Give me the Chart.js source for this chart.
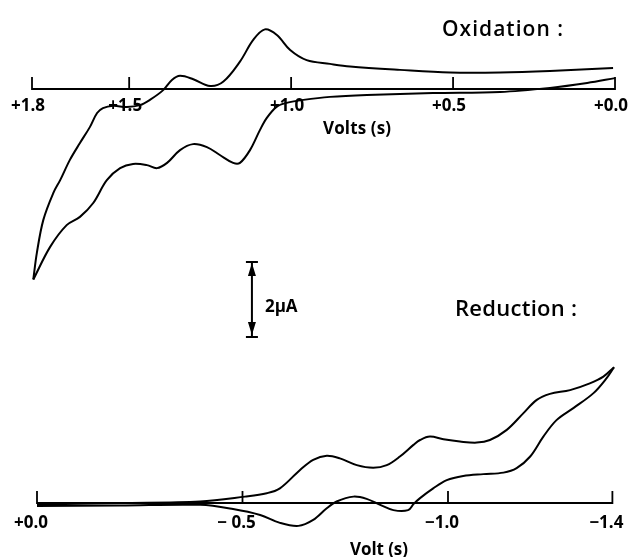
<!DOCTYPE html>
<html><head><meta charset="utf-8">
<script src="https://cdn.jsdelivr.net/npm/chart.js@4"></script>
<style>
html,body{margin:0;padding:0;background:#fff;width:628px;height:557px;overflow:hidden}
#wrap{position:relative;width:628px;height:557px}
canvas{position:absolute;left:0;top:0}
</style></head><body>
<div id="wrap">
<canvas id="ox" width="628" height="557"></canvas>
<canvas id="red" width="628" height="557"></canvas>
</div>
<script>
// ---------- Oxidation panel (volts vs microamps) ----------
const oxTickValues = [1.8, 1.5, 1.0, 0.5, 0.0];
const oxTickLabels = ['+1.8', '+1.5', '+1.0', '+0.5', '+0.0'];
const oxForwardVolts   = [1.796, 1.785, 1.765, 1.734, 1.713, 1.683, 1.652, 1.621, 1.599, 1.581, 1.550, 1.507, 1.467, 1.436, 1.395, 1.368, 1.343, 1.302, 1.250, 1.209, 1.158, 1.117, 1.081, 1.044, 1.003, 0.952, 0.880, 0.818, 0.664, 0.509, 0.355, 0.201, 0.006];
const oxForwardCurrent = [-5.08, -4.37, -3.49, -2.77, -2.43, -1.89, -1.44, -1.01, -0.64, -0.51, -0.45, -0.48, -0.43, -0.29, -0.03, 0.24, 0.35, 0.26, 0.08, 0.20, 0.73, 1.31, 1.59, 1.44, 1.04, 0.77, 0.67, 0.60, 0.51, 0.44, 0.44, 0.48, 0.56];
const oxReverseVolts   = [1.796, 1.744, 1.693, 1.652, 1.611, 1.569, 1.528, 1.488, 1.445, 1.414, 1.383, 1.343, 1.303, 1.260, 1.220, 1.179, 1.158, 1.127, 1.096, 1.075, 1.044, 1.014, 0.962, 0.880, 0.766, 0.562, 0.355, 0.201, 0.086, 0.0];
const oxReverseCurrent = [-5.08, -4.21, -3.63, -3.41, -3.04, -2.43, -2.11, -2.00, -2.03, -2.11, -1.97, -1.63, -1.47, -1.55, -1.76, -1.97, -1.97, -1.63, -1.09, -0.77, -0.47, -0.37, -0.29, -0.21, -0.16, -0.11, -0.08, 0.03, 0.16, 0.29];

// ---------- Reduction panel ----------
const redTickValues = [0.0, -0.5, -1.0, -1.4];
const redTickLabels = ['+0.0', '\u2212 0.5', '\u22121.0', '\u22121.4'];
const redForwardVolts   = [0.0, -0.202, -0.397, -0.506, -0.559, -0.591, -0.640, -0.672, -0.705, -0.737, -0.778, -0.818, -0.851, -0.883, -0.916, -0.932, -0.956, -0.989, -1.029, -1.070, -1.102, -1.143, -1.183, -1.216, -1.248, -1.297, -1.345, -1.378, -1.404];
const redForwardCurrent = [-0.04, 0.0, 0.04, 0.17, 0.26, 0.39, 0.88, 1.15, 1.26, 1.19, 1.01, 0.94, 1.01, 1.24, 1.55, 1.68, 1.77, 1.70, 1.64, 1.61, 1.68, 1.95, 2.39, 2.75, 2.91, 3.01, 3.19, 3.37, 3.62];
const redReverseVolts   = [0.0, -0.202, -0.397, -0.477, -0.543, -0.591, -0.636, -0.672, -0.705, -0.729, -0.770, -0.802, -0.835, -0.867, -0.903, -0.916, -0.932, -0.964, -0.997, -1.037, -1.086, -1.135, -1.167, -1.200, -1.232, -1.264, -1.305, -1.354, -1.386, -1.404];
const redReverseCurrent = [-0.08, -0.07, -0.05, -0.16, -0.32, -0.53, -0.61, -0.45, -0.14, 0.04, 0.17, 0.11, -0.05, -0.19, -0.19, -0.03, 0.13, 0.39, 0.61, 0.72, 0.77, 0.81, 0.93, 1.24, 1.77, 2.21, 2.53, 2.93, 3.33, 3.62];

// ---------- Current scale bar ----------
const scaleBarMicroAmps = 2;
const scaleBarLabel = '2\u03BCA';

const FONT = '"Open Sans", "Liberation Sans", Arial, sans-serif';

function pts(xs, ys) { return xs.map((v, i) => ({ x: v, y: ys[i] })); }

function drawText(ctx, text, left, cy, size, width, weight) {
  ctx.font = (weight || 700) + ' ' + size + 'px ' + FONT;
  ctx.textAlign = 'left';
  ctx.textBaseline = 'alphabetic';
  if ('letterSpacing' in ctx) ctx.letterSpacing = '0px';
  const w = ctx.measureText(text).width;
  const n = [...text].length;
  if (width && 'letterSpacing' in ctx && n > 1) ctx.letterSpacing = ((width - w) / (n - 1)) + 'px';
  ctx.fillText(text, left, cy + size * 0.36);
  if ('letterSpacing' in ctx) ctx.letterSpacing = '0px';
}

function axisPlugin(cfg) {
  return {
    id: 'axis_' + cfg.name,
    afterDatasetsDraw(chart) {
      const ctx = chart.ctx, x = chart.scales.x, y = chart.scales.y;
      const y0 = y.getPixelForValue(0);
      const xs = cfg.ticks.map(v => x.getPixelForValue(v));
      ctx.save();
      ctx.strokeStyle = '#000';
      ctx.fillStyle = '#000';
      ctx.lineWidth = 2;
      ctx.beginPath();
      ctx.moveTo(Math.min(...xs), y0);
      ctx.lineTo(Math.max(...xs), y0);
      ctx.stroke();
      ctx.lineWidth = 1.8;
      ctx.beginPath();
      xs.forEach(px => { ctx.moveTo(px, y0 + 1); ctx.lineTo(px, y0 - 12); });
      ctx.stroke();
      ctx.font = '700 17px ' + FONT;
      ctx.textAlign = 'center';
      ctx.textBaseline = 'alphabetic';
      xs.forEach((px, i) => {
        ctx.fillText(cfg.labels[i], px + cfg.labelDx, y0 + cfg.labelDy + 17 * 0.36);
      });
      cfg.texts.forEach(t => drawText(ctx, t.text, t.left, t.cy, t.size, t.width, t.weight));
      if (cfg.bar) {
        const bx = x.getPixelForValue(cfg.bar.v);
        const t = y.getPixelForValue(cfg.bar.top);
        const b = y.getPixelForValue(cfg.bar.top - scaleBarMicroAmps);
        ctx.lineWidth = 2;
        ctx.beginPath();
        ctx.moveTo(bx - 6, t); ctx.lineTo(bx + 6, t);
        ctx.moveTo(bx - 6, b); ctx.lineTo(bx + 6, b);
        ctx.moveTo(bx, t); ctx.lineTo(bx, b);
        ctx.stroke();
        ctx.beginPath();
        ctx.moveTo(bx, t + 1); ctx.lineTo(bx - 4, t + 14); ctx.lineTo(bx + 4, t + 14); ctx.closePath();
        ctx.moveTo(bx, b - 2); ctx.lineTo(bx - 4, b - 15); ctx.lineTo(bx + 4, b - 15); ctx.closePath();
        ctx.fill();
        drawText(ctx, scaleBarLabel, bx + 13, (t + b) / 2 + 6, 17, 0, 700);
      }
      ctx.restore();
    }
  };
}

function lineSet(data) {
  return { data, showLine: true, fill: false, borderColor: '#000', borderWidth: 2, pointRadius: 0, clip: false, tension: 0.35 };
}

function makeChart(id, datasets, xMin, xMax, yMin, yMax, plugin) {
  return new Chart(document.getElementById(id), {
    type: 'scatter',
    data: { datasets },
    options: {
      responsive: false, animation: false, devicePixelRatio: 1,
      layout: { padding: 0 },
      plugins: { legend: { display: false }, tooltip: { enabled: false } },
      scales: {
        x: { type: 'linear', display: false, reverse: true, min: xMin, max: xMax },
        y: { type: 'linear', display: false, min: yMin, max: yMax }
      }
    },
    plugins: [plugin]
  });
}

// top panel: 1.8 V at x=32px, 0 V at x=615px; 0 uA at y=89px, 37.5 px per uA
makeChart('ox',
  [lineSet(pts(oxForwardVolts, oxForwardCurrent)), lineSet(pts(oxReverseVolts, oxReverseCurrent))],
  -0.0401, 1.8988, -12.48, 2.3733,
  axisPlugin({
    name: 'ox', ticks: oxTickValues, labels: oxTickLabels, labelDx: -4, labelDy: 16,
    texts: [
      { text: 'Oxidation :', left: 442, cy: 28, size: 21, width: 121, weight: 600 },
      { text: 'Volts (s)', left: 323, cy: 127.5, size: 17, width: 68 }
    ],
    bar: { v: 1.121, top: -4.613 }
  }));

// bottom panel: 0 V at x=37px, -1.4 V at x=612px; 0 uA at y=503px
makeChart('red',
  [lineSet(pts(redForwardVolts, redForwardCurrent)), lineSet(pts(redReverseVolts, redReverseCurrent))],
  -1.43796, 0.09002, -1.44, 13.413,
  axisPlugin({
    name: 'red', ticks: redTickValues, labels: redTickLabels, labelDx: -6, labelDy: 19,
    texts: [
      { text: 'Reduction :', left: 455, cy: 308, size: 22, width: 122, weight: 600 },
      { text: 'Volt (s)', left: 350, cy: 549, size: 17, width: 58 }
    ]
  }));
</script>
</body></html>
